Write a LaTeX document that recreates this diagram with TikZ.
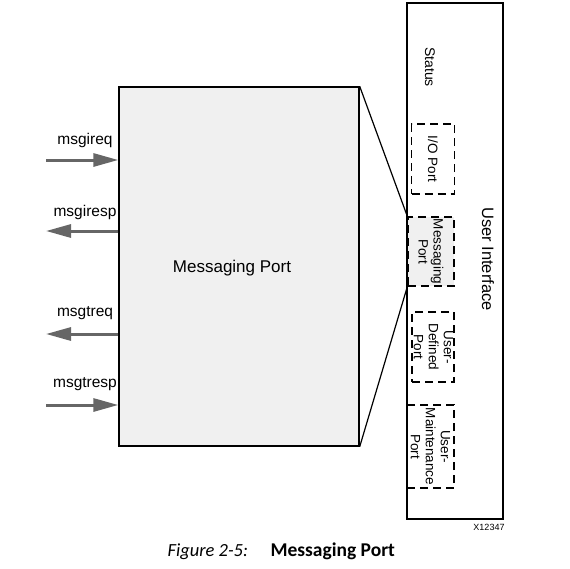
\documentclass[tikz,border=0pt]{standalone}
\usepackage{fontspec}
\setmainfont{Liberation Sans}
\newfontfamily\capfont{Carlito}
\usetikzlibrary{arrows.meta}

\begin{document}
\begin{tikzpicture}[x=1pt, y=-1pt,
		block/.style={draw, line width=1.4pt, inner sep=0pt},
		portbox/.style={draw, line width=1.4pt, dash pattern=on 8pt off 5pt, inner sep=0pt, minimum width=43pt},
		portlabel/.style={rotate=-90, align=center, font=\fontsize{13.5}{15}\selectfont},
		sig/.style={draw=black!60, line width=3pt, -{Triangle[length=25pt, width=13pt]}},
		siglabel/.style={font=\fontsize{15.5}{18}\selectfont}]
	
	\useasboundingbox (0,0) rectangle (570,568);
	
	% the two main blocks
	\node[block, fill=black!6, minimum width=240pt, minimum height=359pt] (msgport) at (239,266.5) {};
	\node[font=\fontsize{17}{20}\selectfont] at (232,268) {Messaging Port};
	\node[block, minimum width=96pt, minimum height=516pt] (ui) at (455,261) {};
	\node[rotate=-90, font=\fontsize{16.5}{19}\selectfont] at (488,259) {User Interface};
	\node[rotate=-90, font=\fontsize{14}{17}\selectfont] at (430,67) {Status};
	
	% ports inside the user interface
	\node[portbox, minimum width=43pt, minimum height=70pt] (ioport) at (433,159) {};
	\node[portlabel] at (ioport) {I/O Port};
	\node[portbox, fill=black!6, minimum width=46pt, minimum height=69pt] (usrmsg) at (431,251.5) {};
	\node[portlabel] at (usrmsg) {Messaging\\Port};
	\node[portbox, minimum width=42pt, minimum height=70pt] (usrdef) at (433,347) {};
	\node[portlabel] at (433.5,347) {User-\\Defined\\Port};
	\node[portbox, minimum width=47pt, minimum height=83pt] (usrmnt) at (430.5,446.5) {};
	\node[portlabel] at (usrmnt) {User-\\Maintenance\\Port};
	
	\draw[line width=1.2pt] (msgport.north east) -- (usrmsg.north west);
	\draw[line width=1.2pt] (msgport.south east) -- (usrmsg.south west);
	
	% signals on the left side
	\coordinate (ireqin) at (46,160);
	\coordinate (irespout) at (46,231);
	\coordinate (treqout) at (46,334);
	\coordinate (trespin) at (46,405);
	\draw[sig] (ireqin) -- (ireqin -| msgport.west);
	\draw[sig] (irespout -| msgport.west) -- (irespout);
	\draw[sig] (treqout -| msgport.west) -- (treqout);
	\draw[sig] (trespin) -- (trespin -| msgport.west);
	\node[siglabel] at (85,140) {msgireq};
	\node[siglabel] at (85,212) {msgiresp};
	\node[siglabel] at (85,313) {msgtreq};
	\node[siglabel] at (85,384) {msgtresp};
	
	\node[font=\fontsize{9}{11}\selectfont] at (489,527) {X12347};
	
	% caption
	\node[anchor=base west, font=\capfont\fontsize{18.5}{22}\selectfont\itshape] (capnum) at (164,556) {Figure 2-5:};
	\node[anchor=base west, font=\capfont\fontsize{19.5}{23}\selectfont\bfseries] (captext) at (267,556) {Messaging Port};
\end{tikzpicture}
\end{document}
